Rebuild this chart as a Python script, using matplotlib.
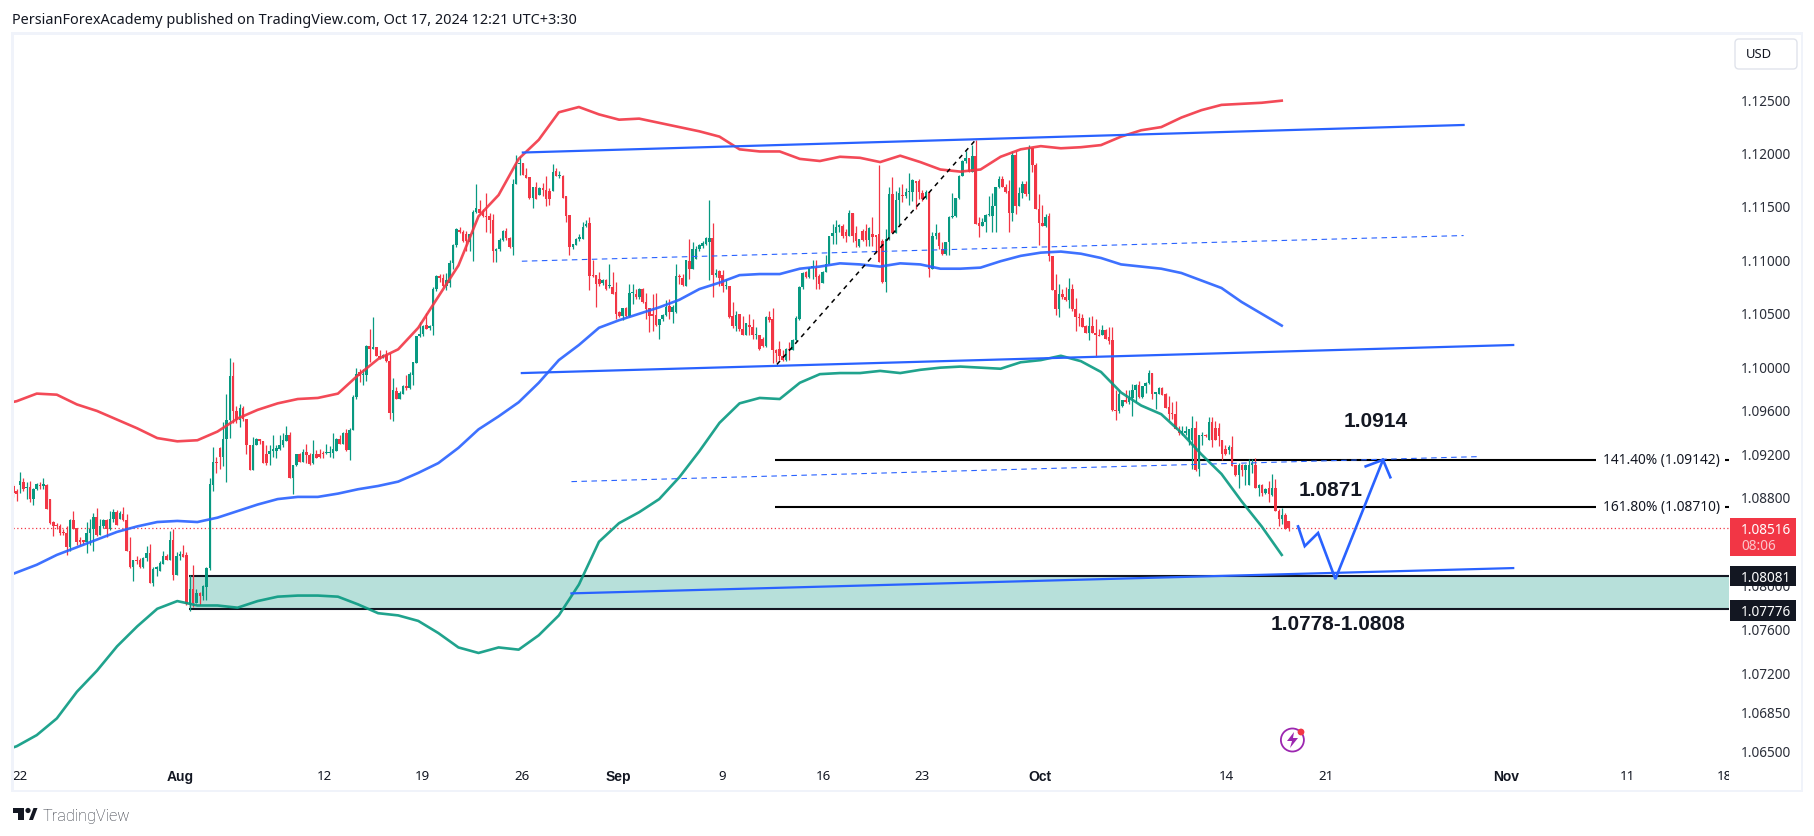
import numpy as np
import matplotlib
matplotlib.use('Agg')
import matplotlib.pyplot as plt
from matplotlib.patches import Rectangle, Circle, Polygon, FancyBboxPatch
from matplotlib.ticker import NullLocator
from matplotlib.transforms import IdentityTransform, Bbox

plt.rcParams['font.family'] = ['Noto Sans', 'DejaVu Sans']

# 4H candles, prices in 1/10000
opens = [
    10890,10885,10891,10894,10888,10889,10878,10887,10891,10890,
    10891,10878,10857,10854,10853,10848,10847,10834,10859,10852,
    10840,10840,10839,10847,10851,10862,10845,10853,10859,10851,
    10860,10866,10860,10864,10859,10831,10816,10822,10822,10816,
    10824,10829,10801,10814,10812,10819,10826,10822,10841,10809,
    10826,10828,10827,10782,10796,10783,10792,10790,10798,10815,
    10891,10912,10925,10917,10933,10951,10991,10959,10951,10962,
    10952,10928,10905,10928,10933,10931,10919,10919,10922,10922,
    10924,10928,10931,10937,10897,10909,10919,10912,10921,10918,
    10911,10919,10919,10920,10920,10920,10920,10922,10933,10929,
    10939,10923,10941,10972,10995,10992,10992,11019,11016,11018,
    11010,11008,11011,11005,10957,10977,10970,10975,10982,10980,
    10992,11003,11028,11030,11039,11036,11038,11072,11084,11082,
    11075,11078,11096,11113,11127,11125,11123,11116,11123,11144,
    11147,11145,11140,11140,11137,11108,11109,11118,11126,11120,
    11111,11170,11189,11190,11179,11177,11157,11168,11160,11167,
    11165,11164,11164,11183,11178,11178,11159,11141,11111,11113,
    11119,11119,11131,11134,11085,11085,11081,11078,11080,11075,
    11074,11069,11051,11047,11054,11047,11068,11067,11065,11072,
    11060,11054,11049,11048,11039,11044,11048,11056,11051,11051,
    11084,11082,11075,11098,11091,11100,11109,11112,11114,11116,
    11120,11085,11089,11085,11075,11075,11047,11038,11049,11035,
    11029,11039,11037,11029,11029,11026,11019,11046,11044,11015,
    11016,11010,11006,11016,11015,11025,11044,11074,11088,11083,
    11092,11092,11084,11078,11088,11095,11122,11124,11130,11131,
    11125,11122,11143,11124,11112,11126,11126,11118,11123,11122,
    11123,11117,11079,11119,11161,11124,11155,11160,11159,11163,
    11163,11173,11173,11162,11157,11163,11091,11122,11124,11109,
    11105,11116,11139,11140,11157,11178,11192,11195,11182,11197,
    11134,11131,11135,11141,11140,11150,11168,11175,11168,11164,
    11143,11198,11150,11162,11170,11161,11204,11188,11147,11134,
    11131,11140,11103,11071,11053,11067,11065,11062,11072,11053,
    11046,11045,11038,11031,11038,11031,11029,11029,11034,11027,
    11025,10960,10959,10964,10969,10967,10971,10978,10983,10972,
    10982,10985,10994,10975,10975,10980,10975,10963,10957,10956,
    10941,10939,10939,10932,10932,10943,10906,10936,10937,10932,
    10949,10943,10943,10932,10924,10923,10926,10909,10900,10909,
    10905,10891,10909,10909,10888,10891,10884,10888,10882,10888,
    10867,10860,10863,10858]
highs = [
    10892,10887,10903,10897,10894,10895,10888,10893,10894,10897,
    10892,10878,10858,10856,10855,10851,10853,10860,10867,10852,
    10843,10841,10857,10860,10865,10870,10860,10860,10860,10867,
    10869,10868,10867,10871,10864,10843,10822,10826,10824,10825,
    10835,10837,10816,10817,10821,10831,10828,10849,10851,10830,
    10831,10836,10830,10809,10818,10796,10793,10800,10816,10897,
    10926,10917,10926,10949,10975,11008,11004,10964,10965,10964,
    10952,10928,10935,10934,10933,10931,10928,10928,10937,10928,
    10937,10939,10945,10940,10909,10919,10920,10924,10929,10920,
    10932,10923,10924,10922,10929,10927,10939,10934,10937,10940,
    10942,10943,10974,10999,10998,10998,11020,11035,11046,11018,
    11015,11012,11015,11013,10989,10981,10977,10983,10992,10995,
    11004,11028,11041,11039,11050,11039,11074,11085,11086,11086,
    11087,11099,11114,11129,11130,11127,11126,11123,11146,11170,
    11155,11147,11162,11143,11142,11110,11120,11127,11129,11121,
    11175,11198,11197,11190,11185,11177,11168,11172,11168,11171,
    11178,11167,11189,11185,11183,11179,11159,11141,11114,11120,
    11123,11135,11137,11139,11099,11085,11088,11081,11081,11095,
    11088,11079,11052,11054,11055,11077,11077,11072,11073,11073,
    11068,11054,11067,11068,11044,11049,11062,11063,11057,11095,
    11086,11086,11099,11119,11116,11112,11114,11117,11121,11155,
    11134,11091,11090,11090,11081,11075,11060,11052,11049,11047,
    11040,11049,11044,11037,11029,11027,11047,11052,11054,11016,
    11024,11015,11017,11023,11026,11047,11075,11088,11089,11093,
    11099,11099,11086,11089,11104,11122,11133,11137,11133,11133,
    11128,11146,11143,11131,11119,11128,11133,11130,11139,11122,
    11188,11119,11128,11168,11177,11164,11168,11170,11167,11181,
    11175,11173,11175,11165,11165,11164,11125,11133,11125,11116,
    11116,11140,11162,11157,11179,11193,11201,11195,11207,11212,
    11139,11138,11142,11159,11162,11168,11178,11178,11170,11174,
    11201,11201,11168,11173,11173,11207,11204,11190,11161,11151,
    11142,11143,11103,11086,11077,11072,11074,11082,11077,11064,
    11050,11049,11039,11046,11047,11044,11035,11039,11035,11037,
    11037,10978,10978,10969,10978,10978,10984,10984,10987,10982,
    10986,10997,10994,10976,10981,10981,10976,10973,10967,10968,
    10945,10945,10945,10942,10954,10950,10937,10940,10938,10953,
    10953,10950,10948,10932,10928,10928,10936,10909,10911,10910,
    10910,10915,10915,10916,10892,10892,10888,10895,10901,10896,
    10869,10870,10865,10858]
lows = [
    10880,10876,10884,10885,10878,10875,10873,10886,10887,10887,
    10869,10855,10844,10851,10845,10845,10827,10831,10851,10836,
    10836,10837,10829,10836,10831,10844,10845,10852,10843,10850,
    10857,10854,10860,10858,10831,10815,10803,10819,10815,10815,
    10821,10801,10799,10808,10812,10819,10822,10822,10804,10809,
    10822,10825,10781,10776,10780,10783,10781,10786,10786,10813,
    10885,10902,10906,10908,10894,10934,10948,10948,10944,10950,
    10919,10905,10905,10928,10929,10911,10909,10909,10917,10916,
    10923,10926,10931,10897,10883,10908,10912,10912,10911,10909,
    10910,10916,10916,10916,10919,10917,10916,10922,10929,10929,
    10922,10914,10941,10970,10986,10983,10987,11004,11016,11010,
    11007,11008,11004,10952,10950,10970,10970,10975,10978,10979,
    10983,11003,11027,11028,11035,11034,11029,11070,11079,11074,
    11071,11074,11091,11111,11124,11116,11108,11108,11098,11143,
    11142,11139,11125,11124,11097,11097,11108,11117,11118,11110,
    11104,11170,11179,11179,11176,11156,11148,11156,11160,11159,
    11150,11151,11164,11178,11176,11157,11135,11104,11109,11113,
    11117,11119,11130,11071,11083,11055,11075,11076,11071,11073,
    11067,11044,11046,11043,11046,11046,11058,11063,11063,11059,
    11044,11032,11033,11038,11026,11042,11047,11044,11040,11050,
    11077,11075,11075,11081,11091,11100,11108,11110,11113,11080,
    11065,11083,11075,11069,11072,11045,11036,11033,11033,11029,
    11029,11029,11026,11026,11015,11018,11018,11041,11003,11004,
    11006,11005,11005,11006,11015,11024,11043,11072,11082,11082,
    11081,11072,11072,11078,11088,11095,11114,11114,11125,11120,
    11116,11122,11116,11111,11111,11117,11112,11112,11112,11106,
    11097,11078,11069,11118,11124,11124,11131,11153,11157,11151,
    11154,11147,11156,11154,11156,11083,11091,11119,11109,11104,
    11104,11104,11138,11139,11156,11178,11190,11182,11182,11133,
    11121,11131,11125,11140,11125,11125,11167,11168,11162,11125,
    11136,11142,11150,11157,11159,11155,11182,11147,11113,11131,
    11130,11098,11071,11048,11046,11063,11061,11054,11052,11033,
    11038,11037,11031,11025,11031,11009,11028,11029,11026,11021,
    10959,10951,10957,10963,10966,10965,10954,10967,10971,10971,
    10976,10984,10970,10961,10975,10974,10962,10951,10952,10942,
    10937,10937,10937,10928,10906,10904,10899,10928,10935,10932,
    10926,10932,10927,10914,10918,10919,10908,10899,10888,10899,
    10891,10891,10902,10888,10881,10881,10883,10875,10881,10867,
    10853,10855,10851,10849]
closes = [
    10884,10883,10895,10887,10889,10878,10887,10892,10890,10892,
    10869,10856,10853,10853,10847,10847,10834,10859,10851,10839,
    10839,10839,10847,10851,10862,10845,10853,10859,10851,10860,
    10866,10854,10865,10859,10831,10816,10822,10821,10816,10824,
    10829,10801,10814,10816,10820,10826,10822,10841,10809,10826,
    10828,10825,10782,10796,10783,10792,10790,10799,10815,10892,
    10912,10911,10917,10933,10951,10991,10959,10951,10962,10952,
    10928,10905,10928,10933,10931,10911,10911,10922,10924,10925,
    10928,10932,10937,10897,10909,10919,10912,10921,10918,10910,
    10919,10916,10917,10919,10921,10921,10924,10933,10929,10939,
    10923,10941,10972,10993,10991,10993,11019,11016,11018,11010,
    11008,11011,11005,10957,10978,10970,10976,10982,10980,10993,
    11004,11028,11030,11038,11035,11038,11072,11084,11082,11075,
    11080,11096,11113,11128,11125,11117,11117,11123,11144,11148,
    11143,11140,11139,11137,11108,11109,11118,11126,11120,11111,
    11170,11189,11190,11179,11176,11157,11168,11156,11167,11165,
    11156,11156,11182,11178,11179,11157,11140,11111,11114,11119,
    11120,11130,11133,11084,11084,11077,11077,11080,11072,11076,
    11067,11049,11047,11054,11047,11068,11068,11065,11072,11060,
    11053,11047,11047,11039,11044,11048,11055,11051,11055,11084,
    11083,11076,11099,11091,11109,11109,11113,11115,11120,11120,
    11085,11087,11082,11075,11076,11046,11038,11048,11035,11029,
    11040,11037,11029,11030,11016,11019,11046,11043,11015,11013,
    11010,11006,11016,11015,11025,11045,11074,11087,11083,11092,
    11093,11083,11077,11088,11095,11122,11124,11130,11132,11122,
    11122,11143,11122,11117,11119,11118,11118,11129,11121,11121,
    11097,11079,11119,11161,11124,11155,11162,11159,11163,11164,
    11174,11171,11163,11156,11163,11091,11122,11124,11112,11105,
    11116,11139,11140,11157,11178,11192,11195,11182,11197,11133,
    11131,11135,11141,11142,11150,11168,11175,11168,11163,11143,
    11198,11150,11162,11170,11161,11204,11188,11147,11134,11131,
    11139,11103,11071,11053,11067,11065,11062,11072,11053,11046,
    11045,11037,11031,11038,11031,11029,11028,11034,11026,11024,
    10960,10959,10975,10969,10967,10971,10978,10983,10972,10982,
    10985,10994,10975,10975,10980,10974,10962,10956,10956,10942,
    10939,10940,10940,10942,10943,10905,10937,10936,10936,10949,
    10932,10932,10936,10919,10919,10926,10908,10900,10909,10905,
    10909,10909,10911,10888,10891,10884,10887,10883,10888,10867,
    10860,10863,10851,10852]

# bands, one value per trading day
band_upper = [
    10964,10968,10975,10974,10965,10959,10951,10943,10934,10931,10932,
    10940,10952,10960,10966,10970,10971,10975,10992,11007,11016,
    11036,11065,11094,11140,11160,11194,11212,11238,11243,11236,
    11231,11232,11228,11224,11220,11215,11203,11201,11201,11194,
    11192,11196,11195,11191,11197,11191,11184,11182,11184,11196,
    11203,11206,11204,11205,11207,11215,11221,11224,11233,11240,
    11245,11246,11247,11249]
band_middle = [
    10804,10811,10818,10827,10834,10841,10848,10853,10857,10858,10857,
    10861,10867,10873,10878,10880,10880,10883,10887,10890,10894,
    10902,10911,10925,10942,10954,10967,10985,11006,11020,11036,
    11043,11049,11055,11062,11072,11078,11085,11086,11086,11091,
    11093,11096,11095,11093,11096,11095,11091,11091,11092,11098,
    11103,11106,11107,11105,11101,11095,11093,11091,11087,11080,
    11073,11060,11049,11038]
band_lower = [
    10648,10654,10664,10679,10703,10722,10744,10762,10778,10785,10781,
    10781,10779,10785,10789,10790,10790,10789,10782,10774,10772,
    10767,10756,10743,10738,10743,10741,10754,10772,10800,10839,
    10856,10866,10878,10898,10922,10948,10966,10971,10970,10985,
    10993,10994,10994,10996,10994,10997,10999,11000,10999,10998,
    11004,11006,11010,11005,10995,10976,10964,10956,10939,10919,
    10901,10876,10853,10827]

# drawings: bar number, price
channel_top_x, channel_top_y = [153, 435.5], [11200, 11226]
channel_low_x, channel_low_y = [152.7, 450.4], [10994, 11020]
channel_mid_x, channel_mid_y = [152.7, 435.5], [11098, 11122]
channel_dash_x, channel_dash_y = [167.6, 440.7], [10894, 10917]
support_x, support_y = [167.6, 450.4], [10792, 10815]
fib_x, fib_y = [229.3, 289], [11002, 11212]
path_x = [385.8, 387.8, 391.8, 397, 411.3]
path_y = [10853, 10835, 10847, 10805, 10914]
head_x = [406.1, 411.3, 413.5]
head_y = [10908, 10914, 10898]

zone_low = 1.07776
zone_high = 1.08081
fib_141 = 1.09142
fib_161 = 1.08710
last_price = 1.08516

price_ticks = [1.125, 1.12, 1.115, 1.11, 1.105, 1.10, 1.096, 1.092, 1.088,
               1.08, 1.076, 1.072, 1.0685, 1.065]
date_labels = ['22', 'Aug', '12', '19', '26', 'Sep', '9', '16', '23', 'Oct',
               '14', '21', 'Nov', '11', '18']
date_bars = [2, 50, 93.3, 122.7, 152.8, 181.6, 212.8, 243.2, 272.9, 308.3,
             364.2, 394.2, 448.2, 484.6, 513.7]
month_labels = ['Aug', 'Sep', 'Oct', 'Nov']

RED = '#F23645'
GREEN = '#089981'
BLUE = '#2962FF'
INK = '#131722'
PANEL = '#F0F3FA'
BOLD_FONT = ['Liberation Sans']
W, H = 1814, 837


def pr(values):
    return np.array(values) / 10000


def box(fig, x0, y0, x1, y1, color):
    fig.add_artist(Rectangle((x0, H - y1), x1 - x0, y1 - y0, facecolor=color,
                             edgecolor='none', transform=IdentityTransform()))


def label(fig, x, y, s, **kw):
    fig.text(x / W, 1 - y / H, s, va='center', **kw)


fig = plt.figure(figsize=(W / 100, H / 100), dpi=100, facecolor='white')
ax = fig.add_axes([13 / W, 1 - 762 / H, 1716 / W, 728 / H])
ax.set_yscale('log')
ax.set_xlim(-0.1, 515.2)
ax.set_ylim(1.125 * np.exp(-661.4 / 11880), 1.125 * np.exp(66.6 / 11880))
for s in ax.spines.values():
    s.set_visible(False)

# zone and levels
ax.fill_between([52.8, 515.2], zone_low, zone_high, color='#B7E0DA', lw=0, zorder=1)
ax.plot([52.8, 515.2], [zone_high, zone_high], color=INK, lw=1.5, zorder=2, solid_capstyle='butt')
ax.plot([52.8, 515.2], [zone_low, zone_low], color=INK, lw=1.5, zorder=2, solid_capstyle='butt')
ax.axhline(last_price, color=RED, lw=0.9, ls=(0, (1, 2)), zorder=2)
for level, text in [(fib_141, '141.40% (1.09142)'), (fib_161, '161.80% (1.08710)')]:
    ax.plot([228.7, 475.3], [level, level], color='black', lw=1.5, zorder=2, solid_capstyle='butt')
    ax.plot([514, 515.2], [level, level], color='black', lw=1.5, zorder=2, solid_capstyle='butt')
    ax.text(477.4, level, text, color=INK, fontsize=9.9, va='center', ha='left', zorder=6)

# candles
bars = np.arange(len(closes))
o, h, l, c = pr(opens), pr(highs), pr(lows), pr(closes)
up = c >= o
colors = np.where(up, GREEN, RED)
ax.vlines(bars, l, h, colors=colors, lw=0.9, zorder=3)
bottom = np.minimum(o, c)
height = np.maximum(np.abs(c - o), 0.00012)
ax.bar(bars, height, width=0.76, bottom=bottom, color=colors, lw=0, zorder=3)

# bands
for band, col in [(band_upper, RED), (band_middle, BLUE), (band_lower, GREEN)]:
    days = 1 + 6.03 * (np.arange(len(band)) - 1)
    ax.plot(days, pr(band), color=col, lw=1.9, alpha=0.9, zorder=4, solid_joinstyle='round')

# trend lines
ax.plot(channel_top_x, pr(channel_top_y), color=BLUE, lw=1.6, zorder=5)
ax.plot(channel_low_x, pr(channel_low_y), color=BLUE, lw=1.6, zorder=5)
ax.plot(support_x, pr(support_y), color=BLUE, lw=1.6, zorder=5)
ax.plot(channel_mid_x, pr(channel_mid_y), color=BLUE, lw=0.8, ls=(0, (5, 4)), zorder=5)
ax.plot(channel_dash_x, pr(channel_dash_y), color=BLUE, lw=0.8, ls=(0, (5, 4)), zorder=5)
ax.plot(fib_x, pr(fib_y), color='black', lw=1.1, ls=(0, (3, 3)), zorder=5)
ax.plot(path_x, pr(path_y), color=BLUE, lw=1.9, zorder=5, solid_joinstyle='miter')
ax.plot(head_x, pr(head_y), color=BLUE, lw=1.9, zorder=5, solid_joinstyle='miter')

# axis labels
ax.yaxis.tick_right()
ax.set_yticks(price_ticks)
ax.set_yticklabels(['%.5f' % p for p in price_ticks], color='#2A2E39', fontsize=9.8)
ax.yaxis.set_minor_locator(NullLocator())
ax.tick_params(axis='y', length=0, pad=8.4)
ax.set_xticks(date_bars)
ax.set_xticklabels(date_labels, color=INK, fontsize=9.6)
ax.tick_params(axis='x', length=0, pad=5.8)
for t in ax.get_xticklabels():
    if t.get_text() in month_labels:
        t.set_family(BOLD_FONT)
        t.set_fontweight('bold')
        t.set_fontsize(10)
    if t.get_text() == '18':
        t.set_clip_on(True)
        t.set_clip_box(Bbox([[0, 0], [1729, H]]))

for xp, yp, s in [(1376, 422, '1.0914'), (1331, 491, '1.0871'), (1338, 624, '1.0778-1.0808')]:
    fig.text(xp / W, 1 - yp / H, s, color=INK, fontsize=15, fontweight='bold',
             family=BOLD_FONT, ha='center', va='center')

# panel frame
box(fig, 11, 33, 13.5, 793, PANEL)
box(fig, 11, 33, 1803, 35.5, PANEL)
box(fig, 11, 790.5, 1803, 793, PANEL)
box(fig, 1800.5, 33, 1803, 793, PANEL)

# price boxes
box(fig, 1730, 519, 1796, 557, RED)
label(fig, 1741, 530, '1.08516', color='white', fontsize=9.8)
label(fig, 1741, 547, '08:06', color='#FBC4CA', fontsize=9.8)
box(fig, 1730, 567, 1796, 587, INK)
label(fig, 1741, 578, '1.08081', color='white', fontsize=9.8)
box(fig, 1730, 601, 1796, 622, INK)
label(fig, 1741, 612, '1.07776', color='white', fontsize=9.8)

# currency button
fig.add_artist(FancyBboxPatch((1735, H - 70), 62, 30, boxstyle='round,pad=0,rounding_size=4',
                              facecolor='white', edgecolor='#E0E3EB', lw=1,
                              transform=IdentityTransform()))
label(fig, 1746, 55, 'USD', color=INK, fontsize=9.4)

# header and footer
label(fig, 12, 21, 'PersianForexAcademy published on TradingView.com, Oct 17, 2024 12:21 UTC+3:30',
      color=INK, fontsize=10.4)
label(fig, 43, 817, 'TradingView', color='#2A2E39', fontsize=11.7, family=['Roboto'], fontweight='light')
fig.add_artist(Polygon([(13, H - 809), (24, H - 809), (24, H - 821), (18, H - 821), (18, H - 814), (13, H - 814)],
                       facecolor=INK, transform=IdentityTransform()))
fig.add_artist(Circle((28, H - 811.5), 2.6, facecolor=INK, transform=IdentityTransform()))
fig.add_artist(Polygon([(29, H - 821), (33.5, H - 809), (37.5, H - 809), (33, H - 821)],
                       facecolor=INK, transform=IdentityTransform()))

# lightning icon
fig.add_artist(Circle((1292.4, H - 741), 11.5, facecolor='white', edgecolor='#9C27B0', lw=1.3,
                      transform=IdentityTransform()))
fig.add_artist(Polygon([(1294, H - 733), (1287, H - 742), (1292, H - 742), (1290, H - 749),
                        (1298, H - 739), (1293, H - 739)],
                       facecolor='#9C27B0', transform=IdentityTransform()))
fig.add_artist(Circle((1301, H - 733), 3.4, facecolor=RED, transform=IdentityTransform()))

fig.savefig('out.png', dpi=100)
